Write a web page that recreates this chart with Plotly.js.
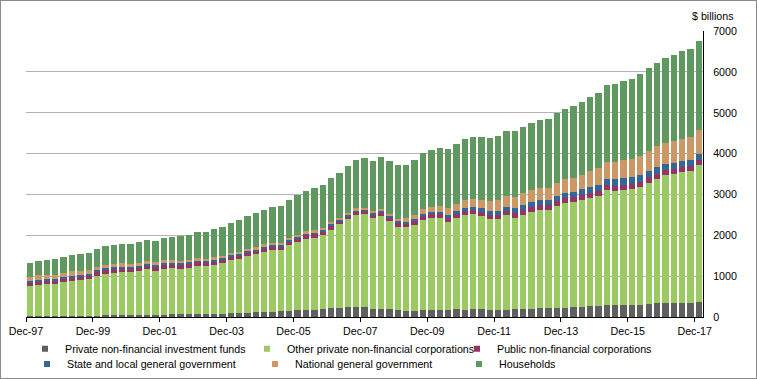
<!DOCTYPE html>
<html>
<head>
<meta charset="utf-8">
<script src="https://cdn.plot.ly/plotly-3.0.1.min.js"></script>
<style>
  html, body { margin: 0; padding: 0; background: #fff; }
  #wrap { position: relative; width: 757px; height: 379px; }
  #chart { position: absolute; left: 0; top: 0; width: 757px; height: 379px; }
  #frame { position: absolute; left: 0; top: 0; width: 757px; height: 379px; box-sizing: border-box; border: 1px solid #8a8a8a; pointer-events: none; }
</style>
</head>
<body>
<div id="wrap"><div id="chart"></div><div id="frame"></div></div>
<script>
// Quarter labels, Dec-97 .. Dec-17
const quarters = [];
(function () {
  const m = ["Mar", "Jun", "Sep", "Dec"];
  quarters.push("Dec-97");
  for (let y = 1998; y <= 2017; y++) {
    for (const mm of m) quarters.push(mm + "-" + String(y).slice(2));
  }
})();

const tickLabels = ["Dec-97","Dec-99","Dec-01","Dec-03","Dec-05","Dec-07","Dec-09","Dec-11","Dec-13","Dec-15","Dec-17"];
const yTickValues = [0, 1000, 2000, 3000, 4000, 5000, 6000, 7000];

// $ billions
const privInvFunds = [35,35,35,35,35,35,35,35,35,55,55,55,55,55,55,55,55,80,80,80,80,80,80,80,100,100,100,120,120,120,145,145,170,170,170,195,220,220,245,245,245,195,195,195,170,145,145,170,170,170,170,195,170,195,195,170,170,170,195,195,195,220,220,220,220,245,245,270,270,295,295,295,295,295,320,345,345,345,345,345,365];
const otherPrivNFC = [725,750,775,775,820,845,870,895,970,1000,1020,1045,1045,1070,1120,1070,1120,1120,1095,1120,1170,1170,1195,1245,1295,1320,1395,1420,1470,1520,1495,1615,1665,1740,1760,1810,1910,2055,2155,2250,2275,2225,2275,2155,2030,2055,2105,2205,2250,2250,2155,2225,2325,2325,2275,2225,2225,2325,2225,2300,2375,2400,2400,2495,2570,2570,2620,2645,2690,2815,2790,2815,2840,2885,2960,3035,3130,3155,3205,3230,3355];
const publicNFC = [75,75,75,75,75,85,75,75,100,100,100,75,75,75,75,100,100,75,100,100,90,75,75,75,75,75,75,75,85,80,75,80,75,95,95,80,95,55,55,80,75,80,75,75,100,75,100,100,95,95,100,95,100,100,95,100,100,100,120,120,120,120,120,120,120,120,120,120,120,120,120,120,120,120,145,120,120,120,120,120,120];
const stateLocalGov = [50,55,50,50,50,40,50,50,50,45,50,50,50,50,50,50,50,50,50,50,35,50,50,50,50,50,35,35,35,35,50,35,55,35,35,35,50,35,35,30,35,35,50,50,50,50,50,50,50,50,70,75,75,75,100,100,100,100,120,120,120,120,120,120,120,120,145,145,145,145,170,170,170,170,145,170,145,145,145,145,145];
const nationalGov = [100,115,100,100,100,120,100,100,75,75,75,95,75,75,75,75,75,75,50,50,75,50,75,50,50,50,65,65,75,55,50,55,40,65,65,55,50,65,65,65,40,55,50,50,50,100,100,120,120,145,170,170,195,195,195,245,270,270,270,295,295,295,295,320,345,340,345,390,415,415,415,440,440,465,490,515,515,540,540,565,585];
const households = [340,340,365,390,390,390,415,415,440,465,465,465,490,515,515,515,540,565,610,610,635,660,685,710,735,785,810,830,830,880,905,930,980,980,1030,1050,1075,1100,1150,1175,1225,1225,1270,1295,1320,1295,1345,1370,1395,1420,1445,1470,1495,1515,1540,1540,1565,1590,1615,1615,1640,1665,1690,1715,1715,1760,1785,1810,1835,1885,1910,1935,1960,2005,2030,2030,2080,2105,2155,2155,2180];

const seriesNames = [
  "Private non-financial investment funds",
  "Other private non-financial corporations",
  "Public non-financial corporations",
  "State and local general government",
  "National general government",
  "Households"
];
const seriesData = [privInvFunds, otherPrivNFC, publicNFC, stateLocalGov, nationalGov, households];
const colors = ["#5f5f5f", "#9bca62", "#993366", "#336699", "#cc9966", "#5f9960"];

const xIdx = quarters.map((q, i) => i);
const legendIds = ["legend", "legend2", "legend3", "legend4", "legend5", "legend6"];
const traces = [];
seriesData.forEach((vals, k) => {
  traces.push({
    type: "bar",
    name: seriesNames[k],
    x: xIdx,
    y: vals,
    customdata: quarters,
    hovertemplate: "%{customdata}: %{y}<extra>" + seriesNames[k] + "</extra>",
    marker: { color: colors[k], line: { width: 0 } },
    showlegend: false
  });
});
// legend entries (small square keys)
seriesData.forEach((vals, k) => {
  traces.push({
    type: "scatter",
    mode: "markers",
    name: seriesNames[k],
    x: [null],
    y: [null],
    marker: { symbol: "square", size: 6, color: colors[k] },
    hoverinfo: "skip",
    showlegend: true,
    legend: legendIds[k]
  });
});

const nQ = quarters.length;
const tickPos = tickLabels.map((t) => quarters.indexOf(t) - 0.5);
const font = { family: "Liberation Sans, Arial, sans-serif", size: 10.7, color: "#000" };

function legendAt(px, py) {
  return {
    orientation: "h",
    xref: "container",
    yref: "container",
    xanchor: "left",
    yanchor: "middle",
    x: px / 757,
    y: 1 - py / 379,
    font: font,
    bgcolor: "rgba(0,0,0,0)",
    borderwidth: 0
  };
}

const layout = {
  width: 757,
  height: 379,
  margin: { l: 26, r: 54, t: 31, b: 62, pad: 0 },
  paper_bgcolor: "#fff",
  plot_bgcolor: "#fff",
  barmode: "stack",
  bargap: 0.24,
  font: font,
  xaxis: {
    type: "linear",
    range: [-0.5, nQ - 0.5],
    tickmode: "array",
    tickvals: tickPos,
    ticktext: tickLabels,
    ticklabelshift: 4.2,
    ticks: "outside",
    ticklen: 4,
    tickwidth: 1,
    tickcolor: "#000",
    showline: true,
    linecolor: "#000",
    linewidth: 1,
    showgrid: false,
    zeroline: false,
    fixedrange: true,
    tickfont: font
  },
  yaxis: {
    side: "right",
    range: [0, 7002],
    tickmode: "array",
    tickvals: yTickValues,
    ticktext: yTickValues.map(String),
    ticks: "",
    ticklabelstandoff: 7,
    showline: true,
    linecolor: "#000",
    linewidth: 1,
    showgrid: true,
    gridcolor: "#b3b3b3",
    gridwidth: 1,
    zeroline: false,
    fixedrange: true,
    tickfont: font
  },
  legend: legendAt(25, 348.7),
  legend2: legendAt(247, 348.7),
  legend3: legendAt(457, 348.7),
  legend4: legendAt(27, 364),
  legend5: legendAt(255, 364),
  legend6: legendAt(459, 364),
  annotations: [{
    text: "$ billions",
    xref: "paper",
    yref: "paper",
    x: (713 - 26) / 677,
    y: (317 - 16) / 286,
    xanchor: "center",
    yanchor: "middle",
    showarrow: false,
    font: font
  }],
  showlegend: true
};

Plotly.newPlot("chart", traces, layout, { staticPlot: true, displayModeBar: false });
</script>
</body>
</html>
